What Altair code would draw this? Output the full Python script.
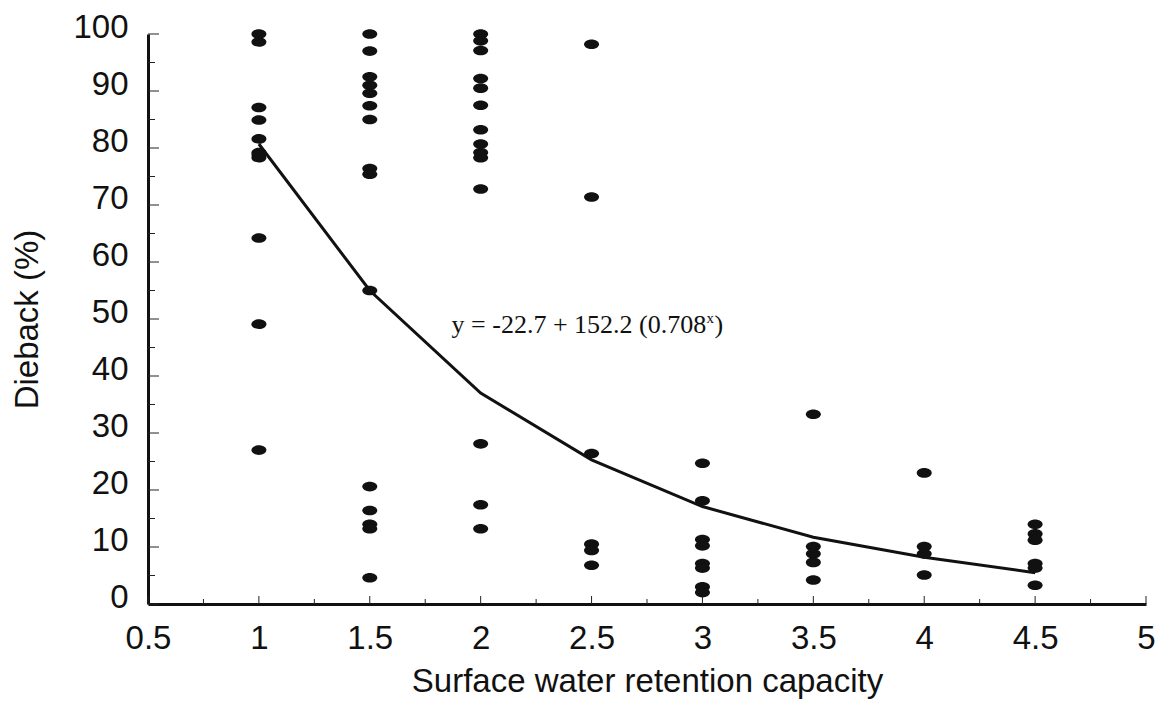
import altair as alt
import pandas as pd

# ---- data ----
x_vals = (
    [1.0] * 11 + [1.5] * 15 + [2.0] * 14 + [2.5] * 6 + [3.0] * 8 + [3.5] * 5 + [4.0] * 4 + [4.5] * 6
)
dieback = (
    [100, 98.6, 87.1, 84.9, 81.6, 79.2, 78.3, 64.2, 49.1, 27.0, 78.8]
    + [100, 97.0, 92.5, 91.0, 89.6, 87.4, 85.0, 76.4, 75.4, 55.0, 20.6, 16.4, 14.0, 13.2, 4.6]
    + [100, 98.8, 97.1, 92.2, 90.5, 87.5, 83.2, 80.7, 79.2, 78.3, 72.8, 28.1, 17.4, 13.2]
    + [98.2, 71.4, 26.4, 10.5, 9.4, 6.8]
    + [24.7, 18.1, 11.3, 10.2, 7.1, 6.3, 3.0, 2.0]
    + [33.3, 10.1, 8.8, 7.3, 4.2]
    + [23.0, 10.1, 8.8, 5.1]
    + [14.0, 12.3, 11.2, 7.1, 6.3, 3.3]
)
fit_x = [1.0, 1.5, 2.0, 2.5, 3.0, 3.5, 4.0, 4.5]
fit_y = [80.7, 55.0, 37.0, 25.3, 17.1, 11.7, 8.2, 5.5]

x_major = [0.5, 1, 1.5, 2, 2.5, 3, 3.5, 4, 4.5, 5]
x_minor = [0.75, 1.25, 1.75, 2.25, 2.75, 3.25, 3.75, 4.25, 4.75]
y_major = [0, 10, 20, 30, 40, 50, 60, 70, 80, 90, 100]
y_minor = [5, 15, 25, 35, 45, 55, 65, 75, 85, 95]

eq_main = "y = -22.7 + 152.2 (0.708"
eq_sup = "x"
eq_close = ")"
eq_x, eq_y = 1.869, 47.5

W, H = 998, 570

pts = pd.DataFrame({"x": x_vals, "y": dieback})
fit = pd.DataFrame({"x": fit_x, "y": fit_y})

xs = alt.Scale(domain=[0.5, 5], nice=False, zero=False)
ys = alt.Scale(domain=[0, 100], nice=False)

ellipse = "M -1 0 A 1 0.64 0 1 0 1 0 A 1 0.64 0 1 0 -1 0 Z"

points = alt.Chart(pts).mark_point(
    shape=ellipse, size=225, filled=True, color="#111111", opacity=1
).encode(
    x=alt.X("x:Q", scale=xs,
            axis=alt.Axis(values=x_major, format="~g", title="Surface water retention capacity",
                          titlePadding=10, labelPadding=18, labelFlush=False)),
    y=alt.Y("y:Q", scale=ys,
            axis=alt.Axis(values=y_major, title="Dieback (%)", titlePadding=28,
                          labelPadding=20, labelOffset=-7, labelFlush=False)),
)

line = alt.Chart(fit).mark_line(color="#111111", strokeWidth=3).encode(
    x=alt.X("x:Q", scale=xs), y=alt.Y("y:Q", scale=ys)
)

def xticks(vals, length):
    return alt.Chart(pd.DataFrame({"x": vals})).mark_rule(color="#222222", strokeWidth=1).encode(
        x=alt.X("x:Q", scale=xs), y=alt.value(H), y2=alt.value(H - length)
    )

def yticks(vals, length):
    return alt.Chart(pd.DataFrame({"y": vals})).mark_rule(color="#222222", strokeWidth=1).encode(
        y=alt.Y("y:Q", scale=ys), x=alt.value(0), x2=alt.value(length)
    )

eq_df = pd.DataFrame({"x": [eq_x], "y": [eq_y]})
eq1 = alt.Chart(eq_df).mark_text(
    text=eq_main, align="left", baseline="alphabetic", font="Liberation Serif", fontSize=26, color="#111111"
).encode(x=alt.X("x:Q", scale=xs), y=alt.Y("y:Q", scale=ys))
eq2 = alt.Chart(eq_df).mark_text(
    text=eq_sup, align="left", baseline="alphabetic", font="Liberation Serif", fontSize=15,
    color="#111111", dx=255, dy=-10
).encode(x=alt.X("x:Q", scale=xs), y=alt.Y("y:Q", scale=ys))
eq3 = alt.Chart(eq_df).mark_text(
    text=eq_close, align="left", baseline="alphabetic", font="Liberation Serif", fontSize=26,
    color="#111111", dx=263
).encode(x=alt.X("x:Q", scale=xs), y=alt.Y("y:Q", scale=ys))

chart = alt.layer(
    xticks(x_major, 8), xticks(x_minor, 5), yticks(y_major, 11), yticks(y_minor, 7),
    line, points, eq1, eq2, eq3
).properties(
    width=W, height=H,
    autosize=alt.AutoSizeParams(type="none"),
    padding={"left": 148, "top": 34, "right": 9, "bottom": 97},
    background="white",
).configure_view(stroke=None).configure_axis(
    grid=False, ticks=False, domainColor="#111111", domainWidth=3,
    labelFont="Liberation Sans", labelFontSize=33, labelColor="#111111",
    titleFont="Liberation Sans", titleFontSize=33, titleColor="#111111", titleFontWeight="normal",
).configure_axisX(labelBaseline="top")

chart.save("out.html", embed_options={"renderer": "svg", "actions": False})
